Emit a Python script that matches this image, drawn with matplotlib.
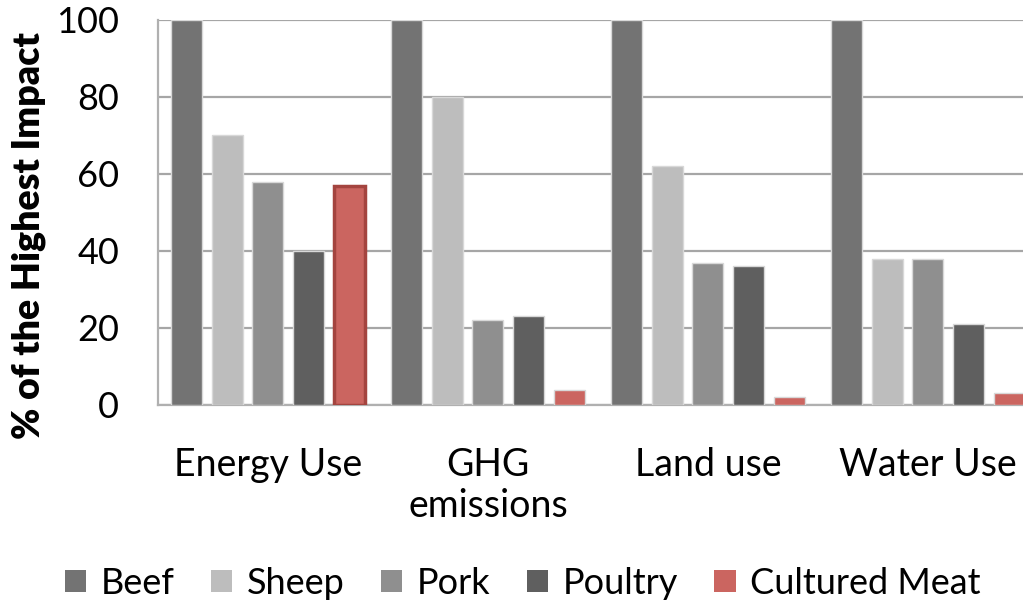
import matplotlib

matplotlib.use("Agg")
import matplotlib.pyplot as plt
import numpy as np

plt.rcParams["font.family"] = ["Lato", "DejaVu Sans"]

categories = ["Energy Use", "GHG\nemissions", "Land use", "Water Use"]
beef = [100, 100, 100, 100]
sheep = [70, 80, 62, 38]
pork = [58, 22, 37, 38]
poultry = [40, 23, 36, 21]
cultured = [57, 4, 2, 3]

series = [
    ("Beef", beef, "#737373"),
    ("Sheep", sheep, "#bdbdbd"),
    ("Pork", pork, "#8f8f8f"),
    ("Poultry", poultry, "#5f5f5f"),
    ("Cultured Meat", cultured, "#cb6560"),
]

fig = plt.figure(figsize=(10.23, 6.05), dpi=100)
ax = fig.add_axes([0.1544, 0.3306, 0.8602, 0.6364])

x = np.arange(len(categories))
slot = 0.185
width = 0.141
for i, (name, vals, color) in enumerate(series):
    pos = x + (i - 2) * slot
    bars = ax.bar(pos, vals, width, color=color, edgecolor="#d8d8d8",
                  linewidth=1.0, label=name, zorder=3)
    if name == "Cultured Meat":
        # highlight the energy-use bar with a darker outline
        bars[0].set_edgecolor("#a4443f")
        bars[0].set_linewidth(2.5)

ax.set_xlim(-0.5, 3.5)
ax.set_ylim(0, 100)
ax.set_yticks([0, 20, 40, 60, 80, 100])
ax.yaxis.grid(True, color="#a6a6a6", linewidth=1.6, zorder=0)
ax.set_axisbelow(True)
for side in ["top", "right"]:
    ax.spines[side].set_visible(False)
for side in ["left", "bottom"]:
    ax.spines[side].set_color("#b0b0b0")
    ax.spines[side].set_linewidth(1.6)

ax.set_xticks(x)
ax.set_xticklabels(categories, fontsize=27, linespacing=1.2, va="top")
ax.tick_params(axis="x", length=0, pad=30)
ax.tick_params(axis="y", length=0, pad=28, labelsize=26)
ax.set_ylabel("% of the Highest Impact", fontsize=27, fontweight="heavy")
ax.yaxis.set_label_coords(-0.127, 0.44)

fig.legend(
    loc="lower center",
    bbox_to_anchor=(0.511, -0.045),
    ncol=5,
    frameon=False,
    fontsize=26,
    handlelength=0.6,
    handleheight=0.6,
    handletextpad=0.4,
    columnspacing=1.0,
)
for h in fig.legends[0].legend_handles:
    h.set_edgecolor("none")

fig.savefig("out.png", dpi=100)
